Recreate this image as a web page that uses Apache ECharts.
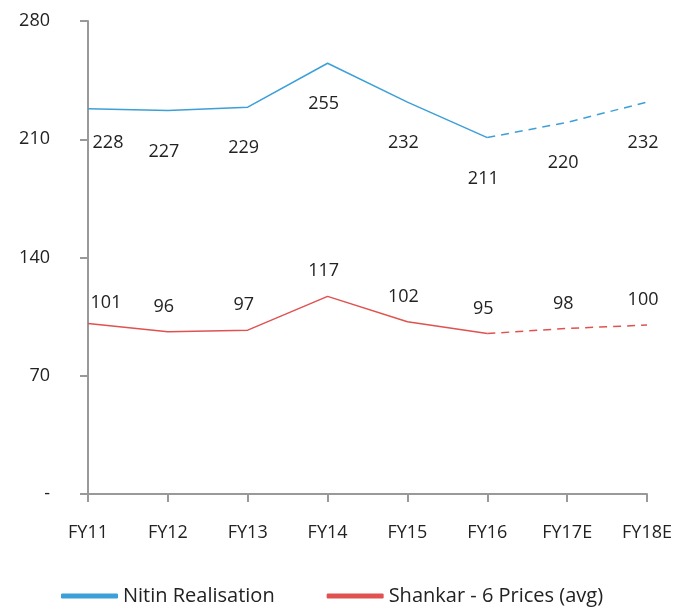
<!DOCTYPE html>
<html>
<head>
<meta charset="utf-8">
<script src="https://cdn.jsdelivr.net/npm/echarts@6/dist/echarts.min.js"></script>
<style>
  html, body { margin: 0; padding: 0; background: #fff; }
  #chart { width: 675px; height: 607px; }
</style>
</head>
<body>
<div id="chart"></div>
<script>
// Fiscal years; the last two are estimates
const categories = ['FY11', 'FY12', 'FY13', 'FY14', 'FY15', 'FY16', 'FY17E', 'FY18E'];
const nitinRealisation = [228, 227, 229, 255, 232, 211, 220, 232];
const shankarPrices = [101, 96, 97, 117, 102, 95, 98, 100];
// Index of the last actual year; later points are drawn dashed
const lastActual = 5;
const yTicks = [0, 70, 140, 210, 280];

const FONT = '"Open Sans", sans-serif';
const TEXT = '#222';
const BLUE = '#3d9fd8';
const RED = '#e0524f';

function actualPart(arr) {
  return arr.map((v, i) => (i <= lastActual ? v : null));
}
function estimatePart(arr) {
  return arr.map((v, i) => (i >= lastActual ? v : null));
}
// Label every point once, on the solid series up to FY16 and the dashed one after it
function labelled(arr, from, to, firstOffset) {
  return arr.map((v, i) => {
    if (v === null) return null;
    const item = { value: v };
    if (i < from || i > to) {
      item.label = { show: false };
    } else if (i === 0) {
      item.label = { offset: firstOffset };
    }
    return item;
  });
}

const labelStyle = { fontFamily: FONT, fontSize: 18, color: TEXT };

function lineSeries(name, data, color, dashed, labelPos, distance) {
  return {
    name: name,
    type: 'line',
    data: data,
    symbol: 'circle',
    symbolSize: 0,
    showSymbol: true,
    lineStyle: { color: color, width: 1.5, type: dashed ? [8, 6] : 'solid' },
    itemStyle: { color: color },
    label: Object.assign({ show: true, position: labelPos, distance: distance, offset: [-4, 0] }, labelStyle)
  };
}

const chart = echarts.init(document.getElementById('chart'));
chart.setOption({
  animation: false,
  grid: { left: 88, right: 25, top: 21, bottom: 113 },
  legend: {
    data: ['Nitin Realisation', 'Shankar - 6 Prices (avg)'],
    left: 56,
    top: 581,
    icon: 'roundRect',
    itemWidth: 57,
    itemHeight: 5,
    itemGap: 52,
    textStyle: { fontFamily: FONT, fontSize: 20, color: TEXT }
  },
  xAxis: {
    type: 'category',
    data: categories,
    boundaryGap: false,
    axisLine: { lineStyle: { color: '#999', width: 2 } },
    axisTick: { show: true, length: 8, lineStyle: { color: '#999', width: 2 } },
    axisLabel: { fontFamily: FONT, fontSize: 18, color: TEXT, margin: 30 }
  },
  yAxis: {
    type: 'value',
    min: yTicks[0],
    max: yTicks[yTicks.length - 1],
    interval: 70,
    splitLine: { show: false },
    axisLine: { show: true, lineStyle: { color: '#999', width: 2 } },
    axisTick: { show: true, length: 8, lineStyle: { color: '#999', width: 2 } },
    axisLabel: {
      fontFamily: FONT, fontSize: 18, color: TEXT, margin: 38,
      formatter: v => (v === 0 ? '-' : String(v))
    }
  },
  series: [
    lineSeries('Nitin Realisation',
      labelled(actualPart(nitinRealisation), 0, lastActual, [20, -7]), BLUE, false, 'bottom', 32),
    lineSeries('Nitin Realisation',
      labelled(estimatePart(nitinRealisation), lastActual + 1, categories.length - 1), BLUE, true, 'bottom', 32),
    lineSeries('Shankar - 6 Prices (avg)',
      labelled(actualPart(shankarPrices), 0, lastActual, [18, 4]), RED, false, 'top', 16),
    lineSeries('Shankar - 6 Prices (avg)',
      labelled(estimatePart(shankarPrices), lastActual + 1, categories.length - 1), RED, true, 'top', 16)
  ]
});
</script>
</body>
</html>
